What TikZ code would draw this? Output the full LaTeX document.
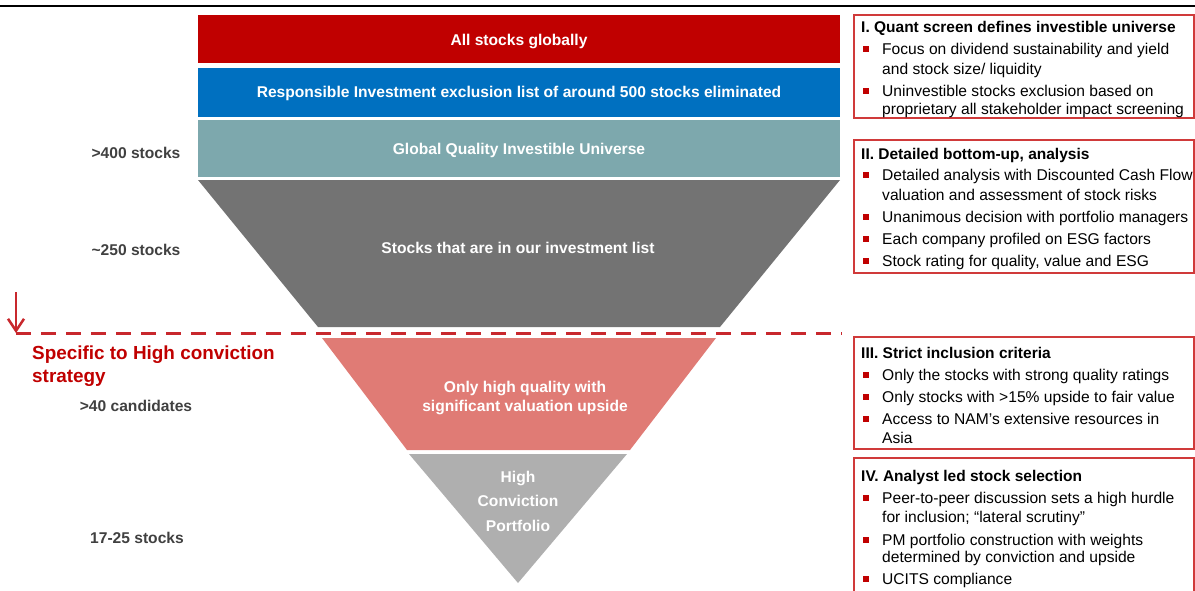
\documentclass[tikz,border=0pt]{standalone}
\usepackage{fontspec}
\setmainfont{Liberation Sans}
\usetikzlibrary{arrows.meta}
\definecolor{allred}{HTML}{C00000}
\definecolor{riblue}{HTML}{0070C0}
\definecolor{gqteal}{HTML}{7DA8AD}
\definecolor{invgrey}{HTML}{737373}
\definecolor{hcpink}{HTML}{E07B75}
\definecolor{pfgrey}{HTML}{AFAFAF}
\definecolor{cutred}{HTML}{C8282D}
\definecolor{boxred}{HTML}{D03A3A}
\definecolor{lblgrey}{HTML}{404040}

\begin{document}
\begin{tikzpicture}[x=1pt,y=-1pt,
  inw/.style={text=white,font=\bfseries\fontsize{15.6}{18.5}\selectfont,align=center,inner sep=0pt},
  lbl/.style={text=lblgrey,font=\bfseries\fontsize{15.6}{18}\selectfont,inner sep=0pt},
  ln/.style={anchor=base west,inner sep=0pt,font=\fontsize{15.6}{18}\selectfont},
  hd/.style={anchor=base west,inner sep=0pt,font=\bfseries\fontsize{15.5}{18}\selectfont},
  sq/.style={fill=allred,minimum size=6pt,inner sep=0pt},
  crit/.style={draw=boxred,line width=1.5pt}]
\useasboundingbox (0,0) rectangle (1195,590);
\clip (0,0) rectangle (1195,590);

% top rule
\draw[line width=1.6pt] (0,6) -- (1195,6);

% funnel
\fill[allred] (198,15) rectangle (840,63);
\fill[riblue] (198,68) rectangle (840,117);
\fill[gqteal] (198,120) rectangle (840,177);
\fill[invgrey] (198,180) -- (840,180) -- (720,327) -- (318,327) -- cycle;
\fill[hcpink] (322,338) -- (716,338) -- (630,450) -- (407,450) -- cycle;
\fill[pfgrey] (409,454) -- (627,454) -- (518,583) -- cycle;

\node[inw] (all) at (519,41) {All stocks globally};
\node[inw] (excl) at (519,93) {Responsible Investment exclusion list of around 500 stocks eliminated};
\node[inw] (gqiu) at (519,150) {Global Quality Investible Universe};
\node[inw] (invlist) at (518,248) {Stocks that are in our investment list};
\node[inw] (hq) at (525,398) {Only high quality with\\significant valuation upside};
\node[inw,font=\bfseries\fontsize{15.6}{24.5}\selectfont] (hcp) at (518,501) {High\\Conviction\\Portfolio};

% stock counts
\node[lbl] (n400) at (136,153) {>400 stocks};
\node[lbl] (n250) at (136,250) {\textasciitilde250 stocks};
\node[lbl] (n40) at (136,406) {>40 candidates};
\node[lbl] (n17) at (137,538) {17-25 stocks};

% cut-off line
\coordinate (arrtop) at (16,292);
\coordinate (corner) at (16,333);
\coordinate (cutend) at (842,333);
\draw[cutred,line width=2.5pt,-{Straight Barb[length=12pt,width=16pt]}] (arrtop) -- (corner);
\draw[cutred,line width=3pt,dash pattern=on 15pt off 10pt] (corner) -- (cutend);
\node[anchor=north west,inner sep=0pt,text=allred,align=left,font=\bfseries\fontsize{18.9}{23}\selectfont] (spec) at (32,346) {Specific to High conviction\\strategy};

% criteria boxes
\draw[crit] (854,15) rectangle (1194,118);
\node[hd] (t1) at (861,32) {I. Quant screen defines investible universe};
\node[sq] (s1a) at (866,49) {};
\node[ln] (l1a) at (882,54) {Focus on dividend sustainability and yield};
\node[ln] (l1b) at (882,74) {and stock size/ liquidity};
\node[sq] (s1b) at (866,91) {};
\node[ln] (l1c) at (882,96) {Uninvestible stocks exclusion based on};
\node[ln] (l1d) at (882,114) {proprietary all stakeholder impact screening};

\draw[crit] (854,140) rectangle (1194,273);
\node[hd] (t2) at (861,159) {II. Detailed bottom-up, analysis};
\node[sq] (s2a) at (866,175) {};
\node[ln] (l2a) at (882,180) {Detailed analysis with Discounted Cash Flow};
\node[ln] (l2b) at (882,200) {valuation and assessment of stock risks};
\node[sq] (s2b) at (866,217) {};
\node[ln] (l2c) at (882,222) {Unanimous decision with portfolio managers};
\node[sq] (s2c) at (866,239) {};
\node[ln] (l2d) at (882,244) {Each company profiled on ESG factors};
\node[sq] (s2d) at (866,261) {};
\node[ln] (l2e) at (882,266) {Stock rating for quality, value and ESG};

\draw[crit] (854,337) rectangle (1194,449);
\node[hd] (t3) at (861,358) {III. Strict inclusion criteria};
\node[sq] (s3a) at (866,375) {};
\node[ln] (l3a) at (882,380) {Only the stocks with strong quality ratings};
\node[sq] (s3b) at (866,397) {};
\node[ln] (l3b) at (882,402) {Only stocks with >15\% upside to fair value};
\node[sq] (s3c) at (866,419) {};
\node[ln] (l3c) at (882,424) {Access to NAM’s extensive resources in};
\node[ln] (l3d) at (882,443) {Asia};

\draw[crit] (854,458) rectangle (1194,600);
\node[hd] (t4) at (861,481) {IV. Analyst led stock selection};
\node[sq] (s4a) at (866,498) {};
\node[ln] (l4a) at (882,503) {Peer-to-peer discussion sets a high hurdle};
\node[ln] (l4b) at (882,522) {for inclusion; “lateral scrutiny”};
\node[sq] (s4b) at (866,540) {};
\node[ln] (l4c) at (882,545) {PM portfolio construction with weights};
\node[ln] (l4d) at (882,562) {determined by conviction and upside};
\node[sq] (s4c) at (866,579) {};
\node[ln] (l4e) at (882,584) {UCITS compliance};
\end{tikzpicture}
\end{document}
